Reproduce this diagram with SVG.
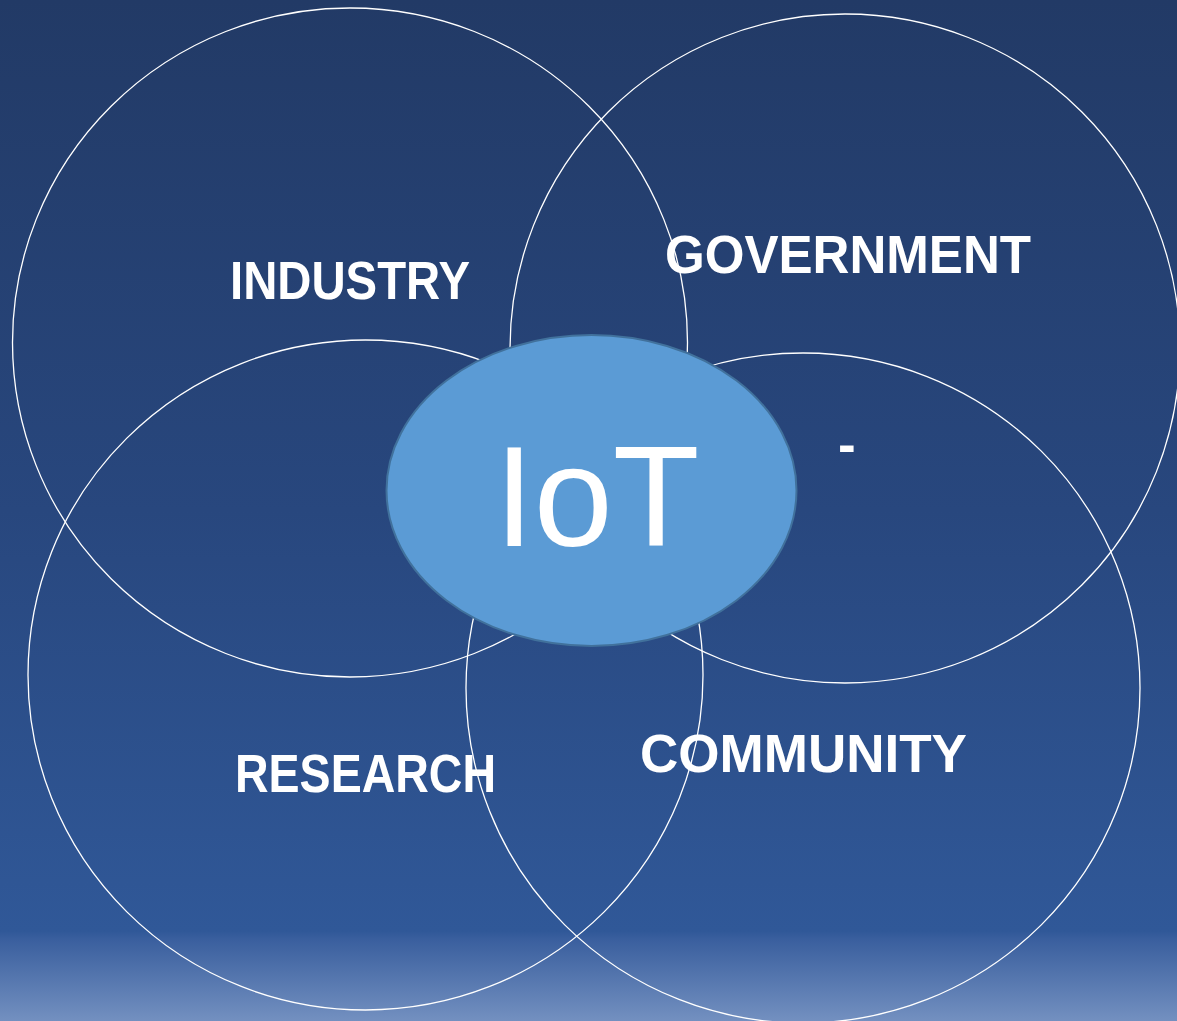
<svg xmlns="http://www.w3.org/2000/svg" width="1177" height="1021" viewBox="0 0 1177 1021">
  <defs>
    <linearGradient id="bg" x1="0" y1="0" x2="0" y2="1021" gradientUnits="userSpaceOnUse">
      <stop offset="0" stop-color="#223a66"/>
      <stop offset="0.5" stop-color="#28477e"/>
      <stop offset="0.912" stop-color="#305898"/>
      <stop offset="0.92" stop-color="#3a5f9e"/>
      <stop offset="1" stop-color="#7390c0"/>
    </linearGradient>
    <style>
      .ring { fill: none; stroke: #ffffff; stroke-width: 1.3; }
      .label { font-family: "Liberation Sans", Arial, sans-serif; font-weight: bold; font-size: 53px; fill: #ffffff; }
      .core { fill: #5b9bd5; stroke: #41719c; stroke-width: 2; }
      .coretext { font-family: "Liberation Sans", Arial, sans-serif; font-size: 142px; fill: #ffffff; }
    </style>
  </defs>
  <rect x="0" y="0" width="1177" height="1021" fill="url(#bg)"/>

  <g id="industry">
    <ellipse class="ring" cx="350" cy="342.5" rx="337.5" ry="334.5"/>
    <text class="label" x="230" y="299" textLength="240" lengthAdjust="spacingAndGlyphs">INDUSTRY</text>
  </g>
  <g id="government">
    <ellipse class="ring" cx="845" cy="348.5" rx="335" ry="334.5"/>
    <text class="label" x="665" y="273" textLength="366" lengthAdjust="spacingAndGlyphs">GOVERNMENT</text>
    <text class="label" x="838" y="463">-</text>
  </g>
  <g id="research">
    <ellipse class="ring" cx="365.5" cy="675" rx="337.5" ry="335"/>
    <text class="label" x="235" y="792" textLength="261" lengthAdjust="spacingAndGlyphs">RESEARCH</text>
  </g>
  <g id="community">
    <ellipse class="ring" cx="803" cy="688" rx="337" ry="335"/>
    <text class="label" x="640" y="772" textLength="327" lengthAdjust="spacingAndGlyphs">COMMUNITY</text>
  </g>
  <g id="connectors"></g>
  <g id="iot">
    <ellipse class="core" cx="591.5" cy="490.5" rx="205" ry="155.5"/>
    <text class="coretext" x="597" y="546" text-anchor="middle">IoT</text>
  </g>
</svg>
